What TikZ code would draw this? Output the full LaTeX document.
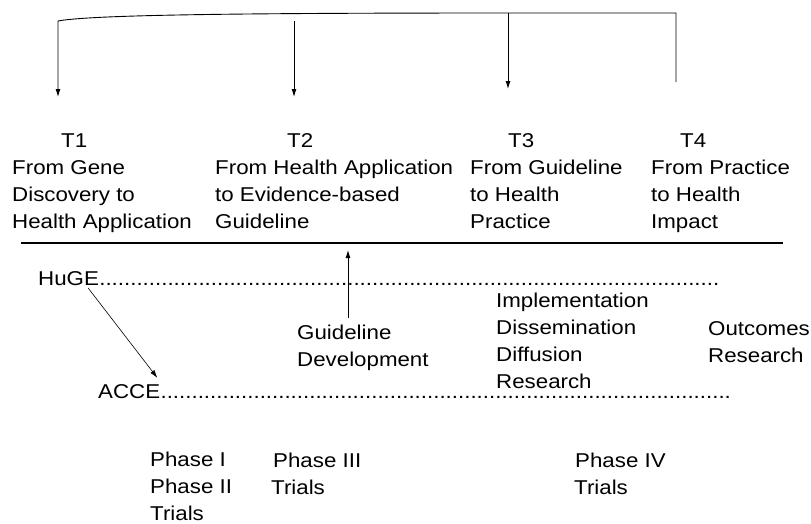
\documentclass[tikz,border=0pt]{standalone}
\usepackage{fontspec}
\setmainfont{Liberation Sans}[FakeStretch=1.115]
\usetikzlibrary{arrows.meta,positioning}

\begin{document}
\begin{tikzpicture}[
				x = 1pt, y = -1pt,
				>= {Latex[length=8pt,width=5pt]},
				every node/.style = {font = \fontsize{20}{27}\selectfont},
				lbl/.style = {inner sep = 0pt, anchor = base west, align = left},
				dots/.style = {lbl, text depth = 0pt},
				link/.style = {line width = .9pt}
			]
			\useasboundingbox (0,0) rectangle (811,523);

			% the four translation steps (placed at the baseline of the last line)
			\node[lbl] (t1) at (12,228) {\hspace*{49pt}T1\\From Gene\\Discovery to\\Health Application};
			\node[lbl] (t2) at (215,228) {\hspace*{72pt}T2\\From Health Application\\to Evidence-based\\Guideline};
			\node[lbl] (t3) at (470,228) {\hspace*{38pt}T3\\From Guideline\\to Health\\Practice};
			\node[lbl] (t4) at (651,228) {\hspace*{29pt}T4\\From Practice\\to Health\\Impact};

			% bracket over the steps
			\coordinate (b1) at (58,21);
			\coordinate (b2) at (294,21);
			\coordinate (b3) at (508,13);
			\coordinate (b4) at (676,13);
			\coordinate (a1) at (58,97);
			\coordinate (a2) at (294,97);
			\coordinate (a3) at (508,89);
			\coordinate (a4) at (676,82);
			\draw[link,->] (a4) -- (b4) -- (b3) .. controls (230,13) and (90,15) .. (b1) -- (a1);
			\draw[link,->] (b2) -- (a2);
			\draw[link,->] (b3) -- (a3);

			\coordinate (rl) at (21,243);
			\coordinate (rr) at (783,243);
			\draw[line width = 1.2pt] (rl) -- (rr);

			% research lines
			\node[lbl] (huge) at (38,285) {HuGE};
			\node[dots] (hugedots) at (huge.base east) {\makebox[623pt][l]{\leaders\hbox{.}\hfill}};
			\node[lbl] (acce) at (98,398) {ACCE};
			\node[dots] (accedots) at (acce.base east) {\makebox[572pt][l]{\leaders\hbox{.}\hfill}};
			\draw[line width = .6pt,->] ([xshift=-11pt,yshift=-3pt]huge.base east) -- ([xshift=-3pt,yshift=6pt]acce.north east);

			\node[lbl] (guide) at (297,366) {Guideline\\Development};
			\node[lbl] (impl) at (496,388) {Implementation\\Dissemination\\Diffusion\\Research};
			\node[lbl] (outc) at (708,362) {Outcomes\\Research};

			\coordinate (g0) at (348,318);
			\coordinate (g1) at (348,250);
			\draw[link,->] (g0) -- (g1);

			% trials
			\node[lbl] (ph12) at (150,520) {Phase I\\Phase II\\Trials};
			\node[lbl] (ph3) at (271,494) {\hspace*{2pt}Phase III\\Trials};
			\node[lbl] (ph4) at (574,494) {\hspace*{1pt}Phase IV\\Trials};

		\end{tikzpicture}
\end{document}
